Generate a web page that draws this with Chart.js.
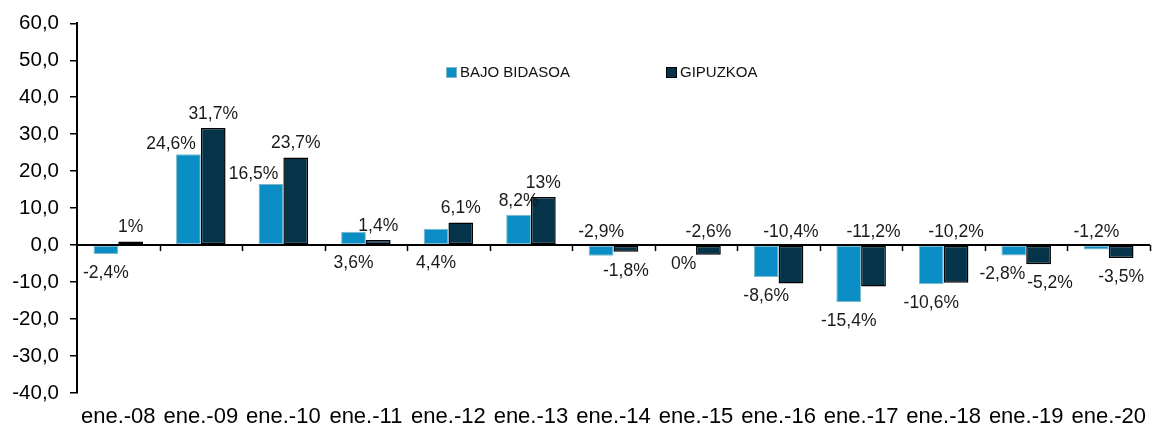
<!DOCTYPE html>
<html>
<head>
<meta charset="utf-8">
<script src="https://cdn.jsdelivr.net/npm/chart.js@4.4.1/dist/chart.umd.min.js"></script>
<style>
  html, body { margin: 0; padding: 0; background: #fff; }
  #wrap { width: 1160px; height: 432px; }
</style>
</head>
<body>
<div id="wrap"><canvas id="chart" width="1160" height="432"></canvas></div>
<script>
// --- data ---
const categories = ['ene.-08', 'ene.-09', 'ene.-10', 'ene.-11', 'ene.-12', 'ene.-13', 'ene.-14',
    'ene.-15', 'ene.-16', 'ene.-17', 'ene.-18', 'ene.-19', 'ene.-20'];
const bajoBidasoa = [-2.4, 24.6, 16.5, 3.6, 4.4, 8.2, -2.9, 0, -8.6, -15.4, -10.6, -2.8, -1.2];
const gipuzkoa = [1, 31.7, 23.7, 1.4, 6.1, 13, -1.8, -2.6, -10.4, -11.2, -10.2, -5.2, -3.5];
const yTicks = [-40, -30, -20, -10, 0, 10, 20, 30, 40, 50, 60];

// where each value label sits (as in the original Excel chart)
const bbLabelPlace = ['below', 'left', 'left', 'below', 'below', 'above', 'above',
    'below', 'below', 'below', 'below', 'below', 'above'];
const gpLabelPlace = ['above', 'above', 'above', 'above', 'above', 'above', 'below',
    'above', 'above', 'above', 'above', 'below', 'below'];

const FONT = '"Liberation Sans", Arial, sans-serif';

function fmtLabel(v) {
    return String(v).replace('.', ',') + '%';
}

// value labels, zero line, category tick marks and the legend
const extras = {
    id: 'extras',
    afterDatasetsDraw(chart) {
        const ctx = chart.ctx;
        const x = chart.scales.x;
        const y = chart.scales.y;
        const zero = y.getPixelForValue(0);
        const area = chart.chartArea;

        ctx.save();
        // zero line
        ctx.strokeStyle = '#000';
        ctx.lineWidth = 2;
        ctx.beginPath();
        ctx.moveTo(area.left, zero);
        ctx.lineTo(area.right, zero);
        ctx.stroke();
        // tick marks between categories
        const step = x.getPixelForValue(1) - x.getPixelForValue(0);
        ctx.lineWidth = 1.5;
        for (let i = 1; i <= categories.length; i++) {
            const px = Math.round(x.getPixelForValue(i) - step / 2) + 0.5;
            ctx.beginPath();
            ctx.moveTo(px, zero);
            ctx.lineTo(px, zero + 6);
            ctx.stroke();
        }

        // value labels
        ctx.fillStyle = '#1a1a1a';
        ctx.font = '17.5px ' + FONT;
        ctx.textBaseline = 'middle';
        ctx.textAlign = 'center';
        const places = [bbLabelPlace, gpLabelPlace];
        const lh = 13;
        categories.forEach((c, i) => {
            const boxes = chart.data.datasets.map((ds, di) => {
                const bar = chart.getDatasetMeta(di).data[i];
                const top = Math.min(bar.y, bar.base);
                const bottom = Math.max(bar.y, bar.base);
                const place = places[di][i];
                let lx = bar.x, ly;
                if (place === 'above') ly = top - 14;
                else if (place === 'below') ly = bottom + 19;
                else { lx = bar.x - bar.width / 2 - 5; ly = top - 10; }
                const text = fmtLabel(ds.data[i]);
                return { text, lx, ly, w: ctx.measureText(text).width };
            });
            // push the two labels apart if they collide
            const [a, b] = boxes;
            const overlapX = (a.w + b.w) / 2 + 2 - (b.lx - a.lx);
            if (overlapX > 0 && Math.abs(a.ly - b.ly) < lh) {
                a.lx -= overlapX / 2;
                b.lx += overlapX / 2;
            }
            boxes.forEach(bx => ctx.fillText(bx.text, bx.lx, bx.ly));
        });

        // legend
        ctx.font = '15px ' + FONT;
        ctx.textAlign = 'left';
        const legendItems = [
            { x: 446, ds: chart.data.datasets[0] },
            { x: 666, ds: chart.data.datasets[1] }
        ];
        legendItems.forEach(item => {
            ctx.fillStyle = item.ds.backgroundColor;
            ctx.fillRect(item.x, 67, 11, 11);
            ctx.strokeStyle = item.ds.borderColor;
            ctx.lineWidth = 1;
            ctx.strokeRect(item.x + 0.5, 67.5, 10, 10);
            ctx.fillStyle = '#111';
            ctx.fillText(item.ds.label, item.x + 14, 73);
        });
        ctx.restore();
    }
};

new Chart(document.getElementById('chart').getContext('2d'), {
    type: 'bar',
    data: {
        labels: categories,
        datasets: [{
            label: 'BAJO BIDASOA',
            data: bajoBidasoa,
            backgroundColor: '#0b8ec6',
            borderColor: '#7db8c9',
            borderWidth: 1,
            borderSkipped: false
        }, {
            label: 'GIPUZKOA',
            data: gipuzkoa,
            backgroundColor: '#04334a',
            borderColor: '#000000',
            borderWidth: 1.5,
            borderSkipped: false
        }]
    },
    options: {
        responsive: false,
        animation: false,
        categoryPercentage: 0.6,
        barPercentage: 1.0,
        layout: { padding: { left: 0, right: 10, top: 8, bottom: 0 } },
        plugins: {
            legend: { display: false },
            tooltip: { enabled: false }
        },
        scales: {
            x: {
                grid: { display: false, drawTicks: false },
                border: { display: false },
                ticks: {
                    color: '#000',
                    padding: 11,
                    maxRotation: 0,
                    autoSkip: false,
                    font: { family: FONT, size: 22 }
                },
                afterFit(scale) { scale.height = 39; }
            },
            y: {
                min: -40,
                max: 60,
                afterBuildTicks(scale) { scale.ticks = yTicks.map(v => ({ value: v })); },
                grid: { drawOnChartArea: false, drawTicks: true, tickLength: 7, color: '#000', lineWidth: 1.5 },
                border: { display: true, color: '#000', width: 2 },
                ticks: {
                    color: '#000',
                    padding: 11,
                    font: { family: FONT, size: 20.5 },
                    callback: v => v.toFixed(1).replace('.', ',')
                },
                afterFit(scale) { scale.width = 77; }
            }
        }
    },
    plugins: [extras]
});
</script>
</body>
</html>
